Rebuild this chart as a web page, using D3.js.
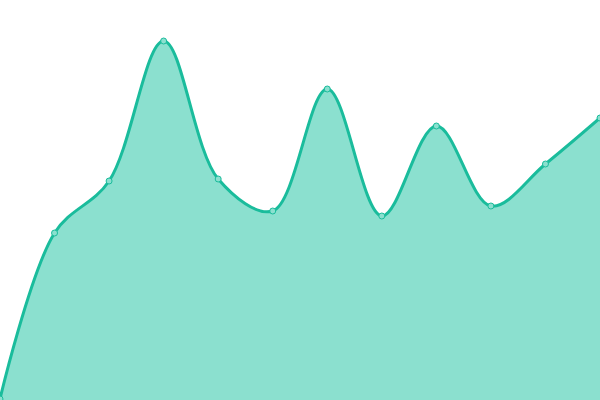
<!DOCTYPE html>
<meta charset="utf-8">

<style>
  body {
    margin: 0px;
    background: #fff;
  }

  svg {
    display: block;
  }

  .area {
    fill: #8be0cf;
  }

  .line {
    fill: none;
    stroke: #1abc9c;
    stroke-width: 3px;
  }

  .dot {
    fill: #8be0cf;
    stroke: #1abc9c;
    stroke-width: 1px;
  }
</style>

<script src="https://d3js.org/d3.v7.min.js"></script>

<body>
  <svg class="chart"></svg>
</body>

<script>
const width = 600;
const height = 400;

// one value per point, left to right
const indexes = [0, 1, 2, 3, 4, 5, 6, 7, 8, 9, 10, 11];
const values = [1, 167, 219, 359, 221, 189, 311, 184, 274, 194, 236, 282];

const x = d3.scaleLinear()
    .domain([0, indexes.length - 1])
    .range([0, width]);

const y = d3.scaleLinear()
    .domain([0, 400])
    .range([height, 0]);

const data = indexes.map(function(d, i) { return {i: d, v: values[i]}});

const svg = d3.select('.chart')
    .attr('width', width)
    .attr('height', height);

const area = d3.area()
    .curve(d3.curveCatmullRom)
    .x(function(d) { return x(d.i)})
    .y0(height)
    .y1(function(d) { return y(d.v)});

const line = d3.line()
    .curve(d3.curveCatmullRom)
    .x(function(d) { return x(d.i)})
    .y(function(d) { return y(d.v)});

svg.append('path')
    .datum(data)
    .attr('class', 'area')
    .attr('d', area);

svg.append('path')
    .datum(data)
    .attr('class', 'line')
    .attr('d', line);

svg.selectAll('.dot')
    .data(data)
  .enter().append('circle')
    .attr('class', 'dot')
    .attr('cx', function(d) { return x(d.i)})
    .attr('cy', function(d) { return y(d.v)})
    .attr('r', 3);
</script>
